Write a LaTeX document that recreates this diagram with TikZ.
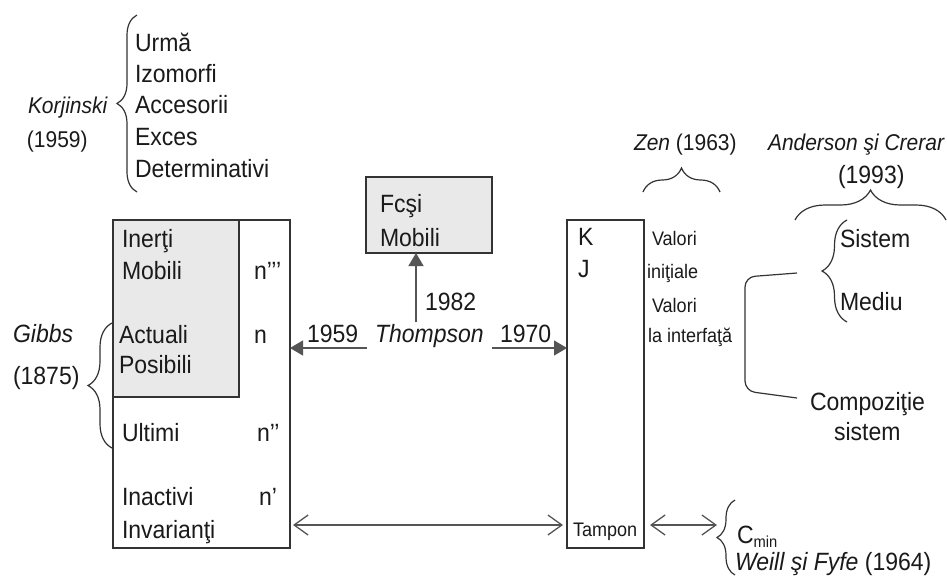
\documentclass[tikz,border=0pt]{standalone}
\usepackage{fontspec}
\setmainfont{Liberation Sans}[FakeStretch=0.92]
\usetikzlibrary{arrows.meta,decorations.pathreplacing}
\definecolor{ink}{HTML}{1A1A1A}
\definecolor{lne}{HTML}{333333}
\definecolor{fillg}{HTML}{E9E9E9}
\definecolor{arr}{HTML}{555555}
\begin{document}
\begin{tikzpicture}[x=1pt,y=-1pt,
  every node/.style={inner sep=0pt, outer sep=0pt, text=ink},
  big/.style={font=\fontsize{25}{30}\selectfont, anchor=base west},
  mid/.style={font=\fontsize{22.8}{27}\selectfont, anchor=base west},
  sml/.style={font=\fontsize{19.6}{23}\selectfont, anchor=base west},
  boxn/.style={draw=lne, line width=1.2pt, anchor=north west, inner sep=0pt},
  brc/.style={draw=lne, line width=1.2pt},
  tri/.style={draw=arr, line width=1.3pt, -{Triangle[length=13pt,width=15pt]}},
  barb/.style={draw=arr, line width=1.3pt, {Straight Barb[length=14pt,width=20pt]}-{Straight Barb[length=14pt,width=20pt]}}
]
\useasboundingbox (0,0) rectangle (947,579);
\fill[white] (0,0) rectangle (947,579);

% Korjinski
\node[mid] (korj) at (28,113) {\itshape Korjinski};
\node[mid] (korjy) at (27,147) {(1959)};
\draw[brc, decoration={brace, amplitude=20pt}, decorate] (137,192) -- (137,15);
\node[big] (k1) at (135,51) {Urmă};
\node[big] (k2) at (135,82) {Izomorfi};
\node[big] (k3) at (135,113) {Accesorii};
\node[big] (k4) at (135,145) {Exces};
\node[big] (k5) at (135,177) {Determinativi};

% Left box
\node[boxn, fill=fillg, minimum width=126pt, minimum height=177pt] (G) at (113,220) {};
\node[boxn, minimum width=177pt, minimum height=328pt] (L) at (113,220) {};
\node[big] (l1) at (122,247) {Inerţi};
\node[big] (l2) at (122,279) {Mobili};
\node[big] (l3) at (119,343) {Actuali};
\node[big] (l4) at (119,373) {Posibili};
\node[big] (l5) at (122,441) {Ultimi};
\node[big] (l6) at (122,505) {Inactivi};
\node[big] (l7) at (122,538) {Invarianţi};
\node[big] (n3) at (254,279) {n’’’};
\node[big] (n0) at (254,343) {n};
\node[big] (n2) at (257,441) {n’’};
\node[big] (n1) at (259,505) {n’};

% Gibbs
\node[big] (gib) at (13,342) {\itshape Gibbs};
\node[big] (giby) at (13,384) {(1875)};
\draw[brc, decoration={brace, amplitude=24pt}, decorate] (112,448) -- (112,323);

% Fcsi box
\node[boxn, fill=fillg, minimum width=126pt, minimum height=76pt] (F) at (366,177) {};
\node[big] (f1) at (380,212) {Fcşi};
\node[big] (f2) at (380,246) {Mobili};

% Thompson
\node[big] (thy) at (425,310) {1982};
\node[big] (t59) at (307,342) {1959};
\node[big] (thom) at (375,342) {\itshape Thompson};
\node[big] (t70) at (500,342) {1970};
\coordinate (ta) at (367,348);
\coordinate (tb) at (492,348);
\coordinate (tc) at (416,322);

% Right box
\node[boxn, minimum width=77pt, minimum height=328pt] (R) at (567,220) {};
\node[big] (rk) at (578,245) {K};
\node[big] (rj) at (578,277) {J};
\node[sml] (v1) at (652,245) {Valori};
\node[sml] (v2) at (647,278) {iniţiale};
\node[sml] (v3) at (652,312) {Valori};
\node[sml] (v4) at (648,342) {la interfaţă};
\node[sml] (tamp) at (573,536) {Tampon};

\draw[tri] (ta) -- (ta -| L.east);
\draw[tri] (tb) -- (tb -| R.west);
\draw[tri] (tc) -- (tc |- F.south);

% Zen
\node[mid] (zen) at (634,150) {\itshape Zen\upshape\ (1963)};
\draw[brc, decoration={brace, amplitude=24pt}, decorate] (643,192) -- (720,192);

% Anderson
\node[mid] (and) at (768,150) {\itshape Anderson şi Crerar};
\node[big] (andy) at (838,183) {(1993)};
\draw[brc, decoration={brace, amplitude=30pt}, decorate] (795,220) -- (946,220);
\draw[brc, decoration={brace, amplitude=25pt}, decorate] (847,322) -- (847,220);
\node[big] (sis) at (840,247) {Sistem};
\node[big] (med) at (840,310) {Mediu};
\draw[brc, rounded corners=10pt] (797,273) -- (745,277) -- (745,391) -- (797,398);
\node[big] (comp) at (810,410) {Compoziţie};
\node[big] (comps) at (834,440) {sistem};

% bottom
\coordinate (b1) at (0,525);
\coordinate (cb) at (717,525);
\draw[barb, shorten <=3pt, shorten >=4pt] (L.east |- b1) -- (R.west |- b1);
\draw[barb, shorten <=6pt] (R.east |- b1) -- (cb);
\draw[brc, decoration={brace, amplitude=18pt}, decorate] (735,575) -- (735,500);
\node[big] (cmin) at (737,543) {C\raisebox{-4pt}{\fontsize{16}{16}\selectfont min}};
\node[big] (weill) at (735,570) {\itshape Weill şi Fyfe\upshape\ (1964)};
\end{tikzpicture}
\end{document}
